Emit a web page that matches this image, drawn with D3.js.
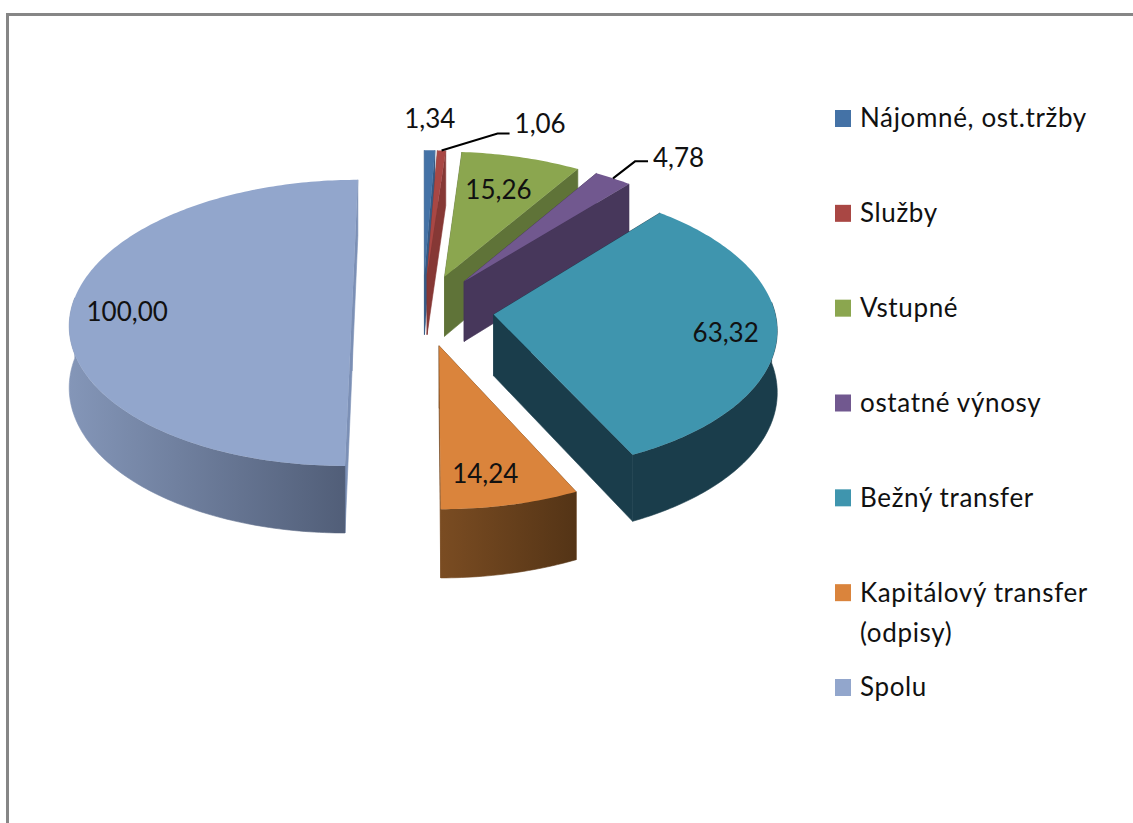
<!DOCTYPE html>
<html>
<head>
<meta charset="utf-8">
<script src="https://cdn.jsdelivr.net/npm/d3@7"></script>
<style>
  html, body { margin: 0; padding: 0; background: #fff; overflow: hidden; }
  text { font-family: Lato, "Open Sans", sans-serif; fill: #111; }
</style>
</head>
<body>
<div id="chart"></div>
<script>
// chart data
var categories = ["Nájomné, ost.tržby", "Služby", "Vstupné", "ostatné výnosy", "Bežný transfer", "Kapitálový transfer", "Spolu"];
var values = [1.34, 1.06, 15.26, 4.78, 63.32, 14.24, 100.0];
var valueLabels = ["1,34", "1,06", "15,26", "4,78", "63,32", "14,24", "100,00"];
var legendSecondLine = ["", "", "", "", "", "(odpisy)", ""];

// colours: top face, cut faces, outer rim (two ends of the gradient)
var topColors = ["#4472a6", "#a94744", "#8ba64f", "#71588f", "#3f95ae", "#da843c", "#92a6cc"];
var wallColors = ["#365a85", "#863835", "#5f7338", "#47375b", "#1a3d4b", "#7a4c22", "#7c90b6"];
var rimStart = ["#365a85", "#863835", "#5f7338", "#47375b", "#1a3d4b", "#7a4c22", "#8496b8"];
var rimEnd = ["#365a85", "#863835", "#5f7338", "#47375b", "#1a3d4b", "#543416", "#515e78"];

// label placement: fraction of the radius from the slice tip, then a small nudge
var labelFrac = [1.25, 1, 0.71, 1, 0.82, 0.8, 0.8];
var labelNudgeX = [-1, 0, -2, 0, 0, -10, 0];
var labelNudgeY = [-4, 0, 0, 0, 3, 3, 2];
// leader lines only on these two (elbow relative to the rim point)
var leaderDx = [null, 56, null, 22, null, null, null];
var leaderDy = [null, -17, null, -17, null, null, null];
var leaderRun = [null, 12, null, 13, null, null, null];
var leaderRise = [null, 10, null, 4, null, null, null];

var svgWidth = 1133;
var svgHeight = 823;

// the fake 3d pie
var cx = 423;
var cy = 310;
var radius = 281;
var explode = 71;
var tilt = 0.505;
var persp = 0.09;
var depth = 61;

var svg = d3.select("#chart")
  .append("svg")
  .attr("width", svgWidth)
  .attr("height", svgHeight);

// grey frame, open to the right and bottom of the page
svg.append("path")
  .attr("d", "M7.5," + svgHeight + "V14.5H" + svgWidth)
  .attr("fill", "none")
  .attr("stroke", "#868686")
  .attr("stroke-width", 3);

var defs = svg.append("defs");

// x right, y towards the viewer, z up
function project(x, y, z) {
  var s = 1 / (1 - persp * y / radius);
  return [cx + x * s, cy + y * tilt * s - z * s];
}

// point on a slice at angle a (clockwise from 12 o'clock), r from its tip
function slicePoint(d, a, r, z) {
  var mid = (d.startAngle + d.endAngle) / 2;
  var x = explode * Math.sin(mid) + r * Math.sin(a);
  var y = -explode * Math.cos(mid) - r * Math.cos(a);
  return project(x, y, z);
}

function arcAngles(a0, a1) {
  var n = Math.max(2, Math.ceil((a1 - a0) * 60));
  var step = d3.scaleLinear().domain([0, n]).range([a0, a1]);
  return d3.range(n + 1).map(step);
}

var line = d3.line();

var pie = d3.pie().sort(null).value(function (d) { return d; });
var slices = pie(values).map(function (d, i) {
  d.i = i;
  d.mid = (d.startAngle + d.endAngle) / 2;
  return d;
});

// back to front
var drawOrder = slices.slice().sort(function (a, b) {
  return d3.ascending(-Math.cos(a.mid), -Math.cos(b.mid));
});

var rimFrom = 85 * Math.PI / 180;
var rimTo = 275 * Math.PI / 180;

drawOrder.forEach(function (d) {
  var g = svg.append("g");
  var tip = slicePoint(d, 0, 0, 0);
  var tipLow = slicePoint(d, 0, 0, -depth);

  [d.startAngle, d.endAngle].forEach(function (a) {
    g.append("path")
      .attr("d", line([tip, slicePoint(d, a, radius, 0), slicePoint(d, a, radius, -depth), tipLow]) + "Z")
      .attr("fill", wallColors[d.i])
      .attr("stroke", wallColors[d.i])
      .attr("stroke-width", 0.6);
  });

  var a0 = Math.max(d.startAngle, rimFrom);
  var a1 = Math.min(d.endAngle, rimTo);
  if (a1 > a0) {
    var angles = arcAngles(a0, a1);
    var upper = angles.map(function (a) { return slicePoint(d, a, radius, 0); });
    var lower = angles.map(function (a) { return slicePoint(d, a, radius, -depth); }).reverse();
    var pts = upper.concat(lower);
    var xr = d3.extent(pts, function (p) { return p[0]; });
    // lighter end of the rim is on the left on this picture
    var grad = defs.append("linearGradient")
      .attr("id", "rim" + d.i)
      .attr("gradientUnits", "userSpaceOnUse")
      .attr("x1", xr[0]).attr("x2", xr[1]).attr("y1", 0).attr("y2", 0);
    grad.append("stop").attr("offset", 0).attr("stop-color", rimStart[d.i]);
    grad.append("stop").attr("offset", 1).attr("stop-color", rimEnd[d.i]);
    g.append("path")
      .attr("d", line(pts) + "Z")
      .attr("fill", "url(#rim" + d.i + ")")
      .attr("stroke", "url(#rim" + d.i + ")")
      .attr("stroke-width", 0.6);
  }

  var topPts = [tip].concat(arcAngles(d.startAngle, d.endAngle).map(function (a) {
    return slicePoint(d, a, radius, 0);
  }));
  g.append("path")
    .attr("d", line(topPts) + "Z")
    .attr("fill", topColors[d.i]);
});

// value labels
slices.forEach(function (d) {
  var i = d.i;
  if (leaderDx[i] !== null) {
    var p0 = slicePoint(d, d.mid, radius, 0);
    var p1 = [p0[0] + leaderDx[i], p0[1] + leaderDy[i]];
    var p2 = [p1[0] + leaderRun[i], p1[1]];
    svg.append("path")
      .attr("d", line([p0, p1, p2]))
      .attr("fill", "none")
      .attr("stroke", "#000")
      .attr("stroke-width", 2);
    svg.append("text")
      .attr("x", p2[0] + 5)
      .attr("y", p2[1] - leaderRise[i])
      .attr("dy", "0.36em")
      .attr("font-size", 26)
      .text(valueLabels[i]);
  } else {
    var p = slicePoint(d, d.mid, radius * labelFrac[i], 0);
    svg.append("text")
      .attr("x", p[0] + labelNudgeX[i])
      .attr("y", p[1] + labelNudgeY[i])
      .attr("dy", "0.36em")
      .attr("text-anchor", "middle")
      .attr("font-size", 26)
      .text(valueLabels[i]);
  }
});

// legend
var legendY = d3.scalePoint().domain(categories).range([118, 687]);

var legend = svg.selectAll("g.legend")
  .data(categories)
  .enter()
  .append("g")
  .attr("class", "legend")
  .attr("transform", function (d) { return "translate(835," + legendY(d) + ")"; });

legend.append("rect")
  .attr("x", 0)
  .attr("y", -8)
  .attr("width", 16)
  .attr("height", 17)
  .attr("fill", function (d, i) { return topColors[i]; });

legend.append("text")
  .attr("x", 25)
  .attr("dy", "0.36em")
  .attr("font-size", 26)
  .attr("letter-spacing", 0.65)
  .text(function (d) { return d; });

legend.append("text")
  .attr("x", 25)
  .attr("y", 40)
  .attr("dy", "0.36em")
  .attr("font-size", 26)
  .attr("letter-spacing", 0.65)
  .text(function (d, i) { return legendSecondLine[i]; });
</script>
</body>
</html>
